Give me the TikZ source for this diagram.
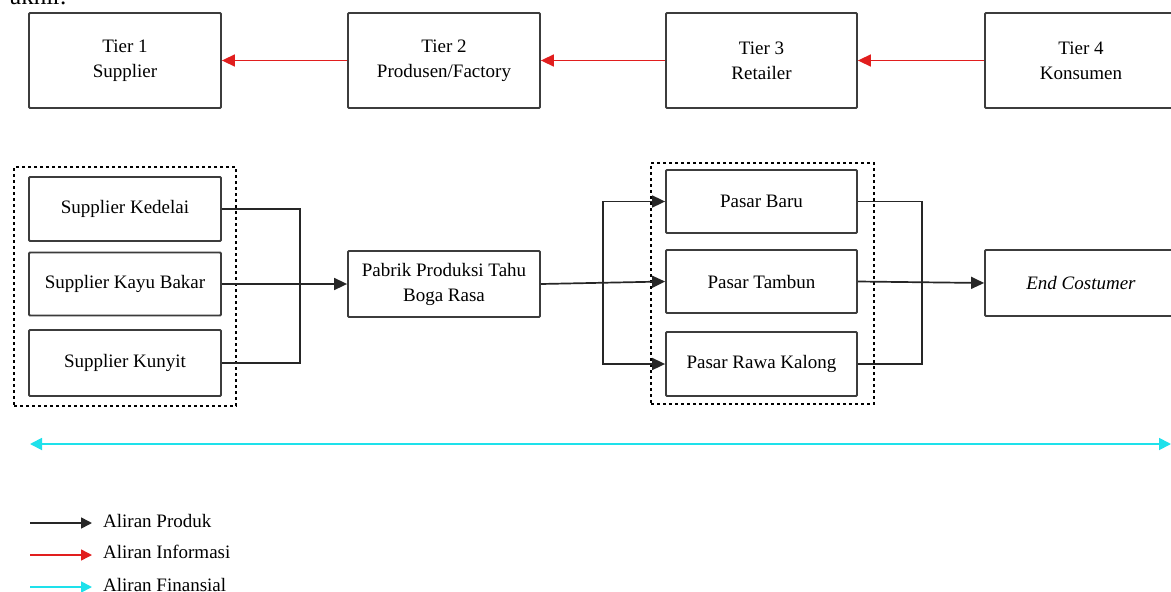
\documentclass[tikz,border=0pt]{standalone}
\usepackage{fontspec}
\setmainfont{Liberation Serif}
\usetikzlibrary{arrows.meta}
\definecolor{boxline}{RGB}{60,60,60}
\definecolor{infored}{RGB}{225,30,30}
\definecolor{fincyan}{RGB}{30,225,235}
\tikzset{
  x=1pt, y=-1pt,
  box/.style={draw=boxline, line width=1.8pt, rounded corners=1pt, fill=white,
    align=center, inner sep=2pt, font=\fontsize{19}{25}\selectfont},
  grp/.style={draw=black, line width=1.4pt, dash pattern=on 3pt off 3pt},
  prod/.style={draw=black!85, line width=1.7pt},
  prodarr/.style={prod, -{Triangle[length=13pt,width=12pt]}},
  infoarr/.style={draw=infored, line width=1.5pt, -{Triangle[length=13pt,width=12pt]}},
  finarr/.style={draw=fincyan, line width=1.8pt, {Triangle[length=12pt,width=12pt]}-{Triangle[length=12pt,width=12pt]}},
  legtext/.style={anchor=west, inner sep=0pt, font=\fontsize{19}{20}\selectfont}
}
\begin{document}
\begin{tikzpicture}
\useasboundingbox (0,0) rectangle (1171,592);
\fill[white] (0,0) rectangle (1171,592);

% cut-off text at the top
\node[anchor=base west, inner sep=0pt, font=\fontsize{25}{25}\selectfont] (akhir) at (10,4) {akhir.};

% tier row
\node[box, minimum width=192pt, minimum height=95pt] (t1) at (125,60.5) {Tier 1\\Supplier};
\node[box, minimum width=192pt, minimum height=95pt] (t2) at (444,60.5) {Tier 2\\Produsen/Factory};
\node[box, minimum width=191pt, minimum height=95pt] (t3) at (761.5,60.5) {Tier 3\\Retailer};
\node[box, minimum width=192pt, minimum height=95pt] (t4) at (1081,60.5) {Tier 4\\Konsumen};

\draw[infoarr] (t2.west) -- (t1.east);
\draw[infoarr] (t3.west) -- (t2.east);
\draw[infoarr] (t4.west) -- (t3.east);

% suppliers group
\node[grp, minimum width=222pt, minimum height=239pt] (gl) at (125,286.5) {};
\node[box, minimum width=192pt, minimum height=64pt] (s1) at (125,209) {Supplier Kedelai};
\node[box, minimum width=192pt, minimum height=63pt] (s2) at (125,284) {Supplier Kayu Bakar};
\node[box, minimum width=192pt, minimum height=66pt] (s3) at (125,363) {Supplier Kunyit};

% factory
\node[box, minimum width=192pt, minimum height=66pt] (pab) at (444,284) {Pabrik Produksi Tahu\\Boga Rasa};

% markets group
\node[grp, minimum width=223pt, minimum height=241pt] (gr) at (762.5,283.5) {};
\node[box, minimum width=191pt, minimum height=63pt] (p1) at (761.5,201.5) {Pasar Baru};
\node[box, minimum width=191pt, minimum height=63pt] (p2) at (761.5,281.5) {Pasar Tambun};
\node[box, minimum width=191pt, minimum height=64pt] (p3) at (761.5,364) {Pasar Rawa Kalong};

% end customer
\node[box, minimum width=192pt, minimum height=66pt, font=\fontsize{19}{25}\selectfont\itshape] (end) at (1081,283) {End Costumer};

% product flows
\coordinate (jl) at (300,284);
\draw[prod] (s1.east) -| (jl) |- (s3.east);
\draw[prodarr] (s2.east) -- (pab.west);

\coordinate (jm) at (603,284);
\draw[prodarr] (pab.east) -- (p2.west);
\draw[prodarr] (jm) |- (p1.west);
\draw[prodarr] (jm) |- (p3.west);

\coordinate (jr) at (922,281.5);
\draw[prod] (p1.east) -| (jr) |- (p3.east);
\draw[prodarr] (p2.east) -- (end.west);

% financial flow
\coordinate (fa) at (30,444);
\coordinate (fb) at (1171,444);
\draw[finarr] (fa) -- (fb);

% legend
\coordinate (l1a) at (30,523); \coordinate (l1b) at (92,523);
\coordinate (l2a) at (30,555); \coordinate (l2b) at (92,555);
\coordinate (l3a) at (30,587); \coordinate (l3b) at (92,587);
\draw[prod, -{Triangle[length=11pt,width=11pt]}] (l1a) -- (l1b);
\draw[draw=infored, line width=1.5pt, -{Triangle[length=11pt,width=11pt]}] (l2a) -- (l2b);
\draw[draw=fincyan, line width=1.8pt, -{Triangle[length=11pt,width=11pt]}] (l3a) -- (l3b);
\node[legtext] (lt1) at (103,521) {Aliran Produk};
\node[legtext] (lt2) at (103,552) {Aliran Informasi};
\node[legtext] (lt3) at (103,585) {Aliran Finansial};
\end{tikzpicture}
\end{document}
